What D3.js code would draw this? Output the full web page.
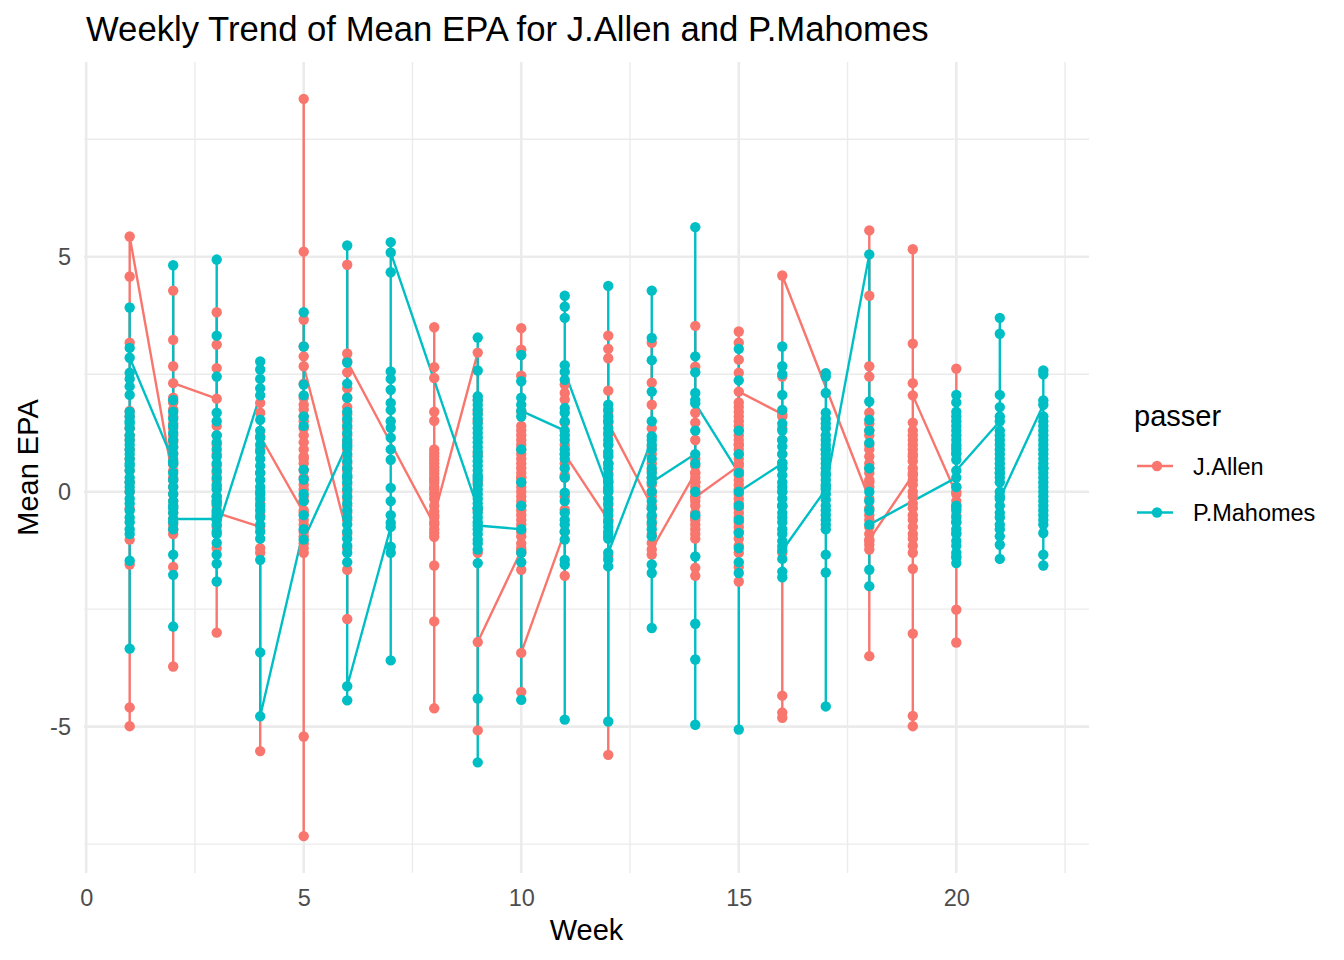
<!DOCTYPE html>
<html>
<head>
<meta charset="utf-8">
<script src="https://cdn.jsdelivr.net/npm/d3@7"></script>
<style>
  html, body { margin: 0; padding: 0; background: #fff; }
  svg { display: block; font-family: "Liberation Sans", Arial, sans-serif; }
</style>
</head>
<body>
<svg width="1344" height="960"></svg>
<script>
// weeks played and the EPA of every play, in data order (first / last value of a week joins the neighbouring weeks)
const passers = ["J.Allen", "P.Mahomes"];
const colours = ["#F8766D", "#00BFC4"];

const weeksAllen = [1, 2, 3, 4, 5, 6, 8, 9, 10, 11, 12, 13, 14, 15, 16, 18, 19, 20];
const epaAllen = [
  [1.2, 4.58, 3.17, 1.72, 1.6, 1.35, 1.1, 0.9, 0.7, 0.45, 0.0, -0.35, -1.02, -1.55, -4.59, -4.99, 0.2, 5.43],
  [0.25, 4.28, 3.23, 2.67, 2.0, 1.9, 1.75, 1.6, 1.45, 1.35, 1.2, 1.05, 0.95, 0.82, 0.7, 0.58, 0.45, 0.3, 0.1, -0.05, -0.2, -0.32,
   -0.45, -0.58, -0.7, -0.8, -0.9, -1.6, -3.72, 1.1, 2.31],
  [1.98, 3.82, 3.13, 2.63, 1.4, 1.2, 1.0, 0.8, 0.55, 0.4, 0.25, -0.1, -0.2, -0.3, -0.55, -0.75, -1.2, -3.0, 0.1, -0.45],
  [-0.75, 1.89, 1.68, 0.9, 0.4, -0.24, -1.2, -1.3, -5.52, -0.5, 1.18],
  [-0.45, 8.36, 5.11, 3.66, 3.09, 2.88, 2.3, 2.0, 1.85, 1.75, 1.6, 1.5, 1.35, 1.2, 1.05, 0.9, 0.75, 0.6, 0.45, 0.3, 0.15, 0.05,
   -0.1, -0.2, -0.4, -0.6, -0.7, -0.85, -0.95, -1.1, -1.2, -1.3, -5.21, -7.33, 0.7, 2.67],
  [-0.9, 4.83, 2.94, 2.54, 2.2, 2.0, 1.8, 1.65, 1.5, 1.35, 1.2, 1.05, 0.9, 0.75, 0.6, 0.45, 0.3, 0.15, 0.0, -0.15, -0.3, -0.45,
   -0.6, -1.2, -1.66, -2.71, 0.5, 2.77],
  [-0.7, 3.5, 2.65, 2.42, 1.7, 1.51, 0.9, 0.82, 0.75, 0.68, 0.6, 0.52, 0.45, 0.38, 0.3, 0.25, 0.19, 0.05, -0.05, -0.15, -0.3,
   -0.42, -0.55, -0.65, -0.8, -0.88, -0.96, -1.57, -2.76, -4.61, 0.1, -0.5],
  [2.96, 1.95, 1.7, 1.5, 0.8, 0.2, -0.4, -1.3, -5.08, -3.2],
  [-1.25, 3.48, 3.02, 2.47, 1.71, 1.4, 1.3, 1.2, 1.1, 1.0, 0.9, 0.8, 0.7, 0.6, 0.5, 0.4, 0.3, 0.2, 0.1, 0.0, -0.1, -0.2, -0.3,
   -0.4, -0.5, -0.6, -0.7, -0.85, -0.95, -1.1, -1.2, -1.3, -1.66, -4.26, 0.3, -3.43],
  [-0.85, 2.28, 2.1, 1.96, 1.47, 1.0, 0.6, 0.35, -0.1, -0.38, -1.79, 0.3, 0.8],
  [-0.6, 3.32, 3.04, 2.84, 2.15, 1.7, 1.5, 1.2, 1.0, 0.8, 0.6, 0.4, 0.2, 0.0, -0.15, -0.3, -0.6, -0.9, -1.38, -5.6, 0.6, 1.46],
  [-0.3, 3.17, 2.32, 1.85, 1.35, 0.95, 0.8, 0.6, 0.45, 0.3, 0.15, -0.1, -0.35, -0.55, -0.7, -0.9, -1.09, -1.34, 0.0, -1.23],
  [0.4, 3.53, 2.66, 1.68, 1.47, 1.1, 0.7, 0.55, 0.4, 0.3, 0.2, 0.1, 0.0, -0.1, -0.2, -0.3, -0.45, -0.55, -0.6, -0.7, -0.8,
   -0.9, -1.0, -1.62, -1.79, 0.2, -0.12],
  [0.55, 3.41, 3.17, 2.81, 2.53, 1.9, 1.8, 1.7, 1.6, 1.5, 1.4, 1.3, 1.2, 1.1, 1.0, 0.9, 0.8, 0.7, 0.6, 0.45, 0.35, 0.25, 0.15,
   0.05, -0.05, -0.15, -0.25, -0.35, -0.45, -0.55, -0.65, -0.75, -0.85, -1.0, -1.15, -1.3, -1.6, -1.91, 1.0, 2.13],
  [1.65, 2.45, 1.6, 1.35, 1.1, 0.5, 0.0, -0.31, -1.3, -4.34, -4.7, -4.81, 0.8, 4.6],
  [-0.15, 5.56, 4.17, 2.67, 2.45, 1.68, 1.45, 1.3, 1.2, 1.0, 0.9, 0.75, 0.6, 0.5, 0.4, 0.25, 0.1, -0.35, -0.5, -0.6, -0.75,
   -0.9, -1.05, -1.13, -1.23, -3.5, 0.2, -1.02],
  [0.35, 5.16, 3.15, 2.31, 1.47, 1.3, 1.2, 1.1, 1.0, 0.9, 0.75, 0.65, 0.5, 0.4, 0.25, 0.15, 0.0, -0.1, -0.25, -0.35, -0.5,
   -0.6, -0.75, -0.9, -1.0, -1.15, -1.3, -1.64, -3.02, -4.77, -4.99, 0.8, 2.05],
  [-0.05, 2.62, 0.95, 0.82, 0.1, 0.0, -0.2, -0.35, -0.5, -0.65, -0.88, -1.38, -2.51, -3.21, -0.3]
];

const weeksMahomes = [1, 2, 3, 4, 5, 6, 7, 9, 10, 11, 12, 13, 14, 15, 16, 17, 18, 20, 21, 22];
const epaMahomes = [
  [1.5, 3.92, 3.06, 2.53, 2.4, 2.24, 2.06, 1.7, 1.6, 1.45, 1.35, 1.2, 1.1, 1.0, 0.9, 0.8, 0.7, 0.55, 0.45, 0.3, 0.2, 0.1, 0.0,
   -0.15, -0.25, -0.4, -0.55, -0.65, -0.8, -0.9, -1.47, -3.34, 0.6, 2.85],
  [0.65, 4.82, 1.95, 1.7, 1.55, 1.4, 1.25, 1.1, 0.95, 0.8, 0.6, 0.4, 0.25, 0.1, -0.05, -0.2, -0.35, -0.45, -0.65, -0.8, -1.34,
   -1.77, -2.87, -0.3, -0.58],
  [-0.58, 4.94, 3.32, 2.45, 1.68, 1.5, 1.2, 1.05, 0.9, 0.75, 0.6, 0.45, 0.3, 0.15, 0.05, -0.1, -0.25, -0.4, -0.5, -0.6, -0.7,
   -0.9, -1.09, -1.34, -1.53, -1.91, -0.2, -0.85],
  [2.05, 2.77, 2.6, 2.4, 2.2, 1.53, 1.3, 1.15, 1.0, 0.85, 0.7, 0.55, 0.4, 0.25, 0.1, -0.05, -0.15, -0.3, -0.4, -0.55, -0.7,
   -0.85, -1.0, -1.45, -3.42, 0.0, -4.78],
  [-0.8, 3.82, 3.09, 2.28, 2.05, 1.6, 1.4, 0.47, 0.26, -0.05, -0.2, -0.5, -1.02],
  [1.0, 5.24, 2.75, 2.3, 2.0, 1.7, 1.55, 1.4, 1.25, 1.1, 0.95, 0.8, 0.65, 0.5, 0.35, 0.2, 0.05, -0.1, -0.25, -0.4, -0.55, -0.7,
   -0.85, -1.0, -1.15, -1.3, -1.5, -4.44, 0.3, -4.14],
  [-0.75, 5.31, 4.67, 2.56, 2.4, 2.17, 1.89, 1.74, 1.5, 1.36, 1.15, 0.9, 0.68, 0.08, -0.2, -0.5, -0.66, -1.17, -1.3, -3.59, 5.09],
  [-0.35, 3.28, 2.58, 2.03, 1.95, 1.85, 1.75, 1.65, 1.55, 1.45, 1.35, 1.25, 1.15, 1.05, 0.95, 0.85, 0.75, 0.65, 0.55, 0.45,
   0.35, 0.25, 0.15, 0.05, -0.05, -0.15, -0.25, -0.35, -0.45, -0.55, -0.65, -0.8, -0.9, -1.02, -1.1, -1.23, -1.52, -4.4, -5.76,
   0.3, -0.72],
  [-0.8, 2.91, 2.35, 2.0, 1.85, 1.6, 0.9, 0.2, -0.3, -1.3, -1.5, -4.43, 1.72],
  [1.3, 4.17, 3.94, 3.7, 2.69, 2.38, 1.78, 1.68, 1.2, 1.1, 0.9, 0.8, 0.7, 0.5, 0.3, -0.02, -0.2, -0.45, -0.6, -0.7, -0.85,
   -1.02, -1.45, -1.55, -4.85, 1.5, 2.55],
  [0.05, 4.38, 1.85, 1.75, 1.6, 1.5, 1.35, 1.25, 1.1, 1.0, 0.85, 0.75, 0.6, 0.5, 0.35, 0.25, 0.1, 0.0, -0.15, -0.25, -0.4,
   -0.5, -0.65, -0.75, -0.85, -0.95, -1.0, -1.45, -1.59, -4.89, 0.2, -1.3],
  [1.1, 4.28, 3.27, 2.8, 2.13, 1.5, 1.18, 1.0, 0.9, 0.7, 0.5, 0.3, 0.0, -0.2, -0.35, -0.5, -0.65, -0.8, -0.95, -1.55, -1.73,
   -2.9, 0.4, 0.2],
  [0.8, 5.63, 2.88, 2.54, 2.1, 1.95, 1.3, 0.0, -0.5, -1.38, -2.81, -3.57, -4.96, 0.6, 1.88],
  [0.4, 3.04, 2.37, 1.3, 0.8, -0.3, -0.6, -0.88, -1.2, -1.5, -1.73, -5.06, 0.0],
  [0.6, 3.09, 2.67, 2.5, 2.06, 1.74, 1.45, 1.3, 1.1, 0.96, 0.8, 0.62, 0.5, 0.35, 0.2, 0.1, 0.0, -0.15, -0.3, -0.45, -0.55,
   -0.65, -0.8, -0.9, -1.05, -1.16, -1.43, -1.7, -1.82, -0.3, -1.25],
  [0.05, 2.52, 2.45, 2.1, 1.68, 1.55, 1.45, 1.35, 1.2, 1.1, 1.0, 0.9, 0.8, 0.7, 0.6, 0.5, 0.4, 0.35, 0.25, 0.15, -0.05, -0.17,
   -0.3, -0.4, -0.5, -0.6, -0.7, -0.8, -1.34, -1.72, -4.57, 0.9, 0.1],
  [5.05, 1.92, 1.53, 1.3, 1.04, 0.5, 0.0, -0.4, -1.66, -2.01, -0.2, -0.7],
  [0.3, 2.06, 1.9, 1.7, 1.6, 1.5, 1.4, 1.3, 1.2, 1.1, 1.0, 0.9, 0.8, 0.68, -0.3, -0.4, -0.55, -0.65, -0.8, -0.9, -1.05, -1.15,
   -1.3, -1.4, -1.52, 0.1, 0.45],
  [1.5, 3.7, 3.36, 2.06, 1.8, 1.6, 1.3, 1.2, 1.1, 1.0, 0.9, 0.8, 0.7, 0.6, 0.5, 0.4, 0.3, 0.2, 0.0, -0.1, -0.3, -0.45, -0.55,
   -0.7, -0.8, -0.95, -1.13, -1.43, 0.4, -0.15],
  [1.85, 2.58, 2.5, 1.94, 1.6, 1.5, 1.4, 1.3, 1.2, 1.1, 1.0, 0.9, 0.8, 0.7, 0.6, 0.5, 0.4, 0.3, 0.2, 0.1, 0.0, -0.1, -0.2,
   -0.3, -0.4, -0.5, -0.6, -0.7, -0.88, -1.34, -1.57, 0.5]
];

const xMajor = [0, 5, 10, 15, 20];
const xMinor = [2.5, 7.5, 12.5, 17.5, 22.5];
const yMajor = [-5, 0, 5];
const yMinor = [-7.5, -2.5, 2.5, 7.5];

// flatten into rows
function toRows(passer, weeks, epa) {
  const rows = [];
  weeks.forEach((w, i) => epa[i].forEach(v => rows.push({ passer: passer, week: w, epa: v })));
  return rows;
}
const series = [
  toRows(passers[0], weeksAllen, epaAllen),
  toRows(passers[1], weeksMahomes, epaMahomes)
];
const allRows = series.flat();

const svg = d3.select("svg");
const panel = { left: 84, right: 1089, top: 62, bottom: 873 };

// ggplot style 5% expansion
function expand(ext) {
  const pad = (ext[1] - ext[0]) * 0.05;
  return [ext[0] - pad, ext[1] + pad];
}
const x = d3.scaleLinear()
  .domain(expand(d3.extent(allRows, d => d.week)))
  .range([panel.left, panel.right]);
const y = d3.scaleLinear()
  .domain(expand(d3.extent(allRows, d => d.epa)))
  .range([panel.bottom, panel.top]);

const grid = svg.append("g").attr("stroke", "#EBEBEB").attr("fill", "none");
grid.selectAll(".xmin").data(xMinor).enter().append("line")
  .attr("x1", d => x(d)).attr("x2", d => x(d))
  .attr("y1", panel.top).attr("y2", panel.bottom).attr("stroke-width", 1.4);
grid.selectAll(".ymin").data(yMinor).enter().append("line")
  .attr("y1", d => y(d)).attr("y2", d => y(d))
  .attr("x1", panel.left).attr("x2", panel.right).attr("stroke-width", 1.4);
grid.selectAll(".xmaj").data(xMajor).enter().append("line")
  .attr("x1", d => x(d)).attr("x2", d => x(d))
  .attr("y1", panel.top).attr("y2", panel.bottom).attr("stroke-width", 2.6);
grid.selectAll(".ymaj").data(yMajor).enter().append("line")
  .attr("y1", d => y(d)).attr("y2", d => y(d))
  .attr("x1", panel.left).attr("x2", panel.right).attr("stroke-width", 2.6);

// axes (ticks only as labels)
const xAxis = svg.append("g")
  .attr("transform", `translate(0,${panel.bottom})`)
  .call(d3.axisBottom(x).tickValues(xMajor).tickSize(0).tickPadding(16));
const yAxis = svg.append("g")
  .attr("transform", `translate(${panel.left},0)`)
  .call(d3.axisLeft(y).tickValues(yMajor).tickSize(0).tickPadding(13).tickFormat(d3.format("d")));
[xAxis, yAxis].forEach(a => {
  a.select(".domain").remove();
  a.selectAll("text")
    .attr("fill", "#4D4D4D")
    .style("font-size", "23.5px")
    .style("font-family", "Liberation Sans, Arial, sans-serif");
});
yAxis.selectAll("text").text(d => d < 0 ? "-" + Math.abs(d) : d);

// lines
const line = d3.line().x(d => x(d.week)).y(d => y(d.epa));
svg.append("g").selectAll("path")
  .data(series).enter().append("path")
  .attr("d", line)
  .attr("fill", "none")
  .attr("stroke", (d, i) => colours[i])
  .attr("stroke-width", 2.4)
  .attr("stroke-linejoin", "round");

// points, week by week
const weeks = Array.from(new Set(allRows.map(d => d.week))).sort((a, b) => a - b);
const ordered = [];
weeks.forEach(w => series.forEach(s => s.filter(d => d.week === w).forEach(d => ordered.push(d))));
svg.append("g").selectAll("circle")
  .data(ordered).enter().append("circle")
  .attr("cx", d => x(d.week))
  .attr("cy", d => y(d.epa))
  .attr("r", 5.2)
  .attr("fill", d => colours[passers.indexOf(d.passer)]);

// titles
svg.append("text")
  .attr("x", 86).attr("y", 41)
  .style("font-size", "34.7px")
  .attr("fill", "#000")
  .text("Weekly Trend of Mean EPA for J.Allen and P.Mahomes");
svg.append("text")
  .attr("x", (panel.left + panel.right) / 2).attr("y", 940)
  .attr("text-anchor", "middle")
  .style("font-size", "29px")
  .text("Week");
svg.append("text")
  .attr("transform", `translate(38,${(panel.top + panel.bottom) / 2}) rotate(-90)`)
  .attr("text-anchor", "middle")
  .style("font-size", "29px")
  .text("Mean EPA");

// legend
const legend = svg.append("g").attr("transform", "translate(1134,0)");
legend.append("text").attr("x", 0).attr("y", 426)
  .style("font-size", "29px").text("passer");
const keys = legend.selectAll(".key").data(passers).enter().append("g")
  .attr("transform", (d, i) => `translate(0,${466 + i * 46.5})`);
keys.append("line").attr("x1", 3).attr("x2", 39).attr("y1", 0).attr("y2", 0)
  .attr("stroke", (d, i) => colours[i]).attr("stroke-width", 2.4);
keys.append("circle").attr("cx", 23).attr("cy", 0).attr("r", 5.2)
  .attr("fill", (d, i) => colours[i]);
keys.append("text").attr("x", 59).attr("y", 8.5)
  .style("font-size", "23.5px").text(d => d);
</script>
</body>
</html>
